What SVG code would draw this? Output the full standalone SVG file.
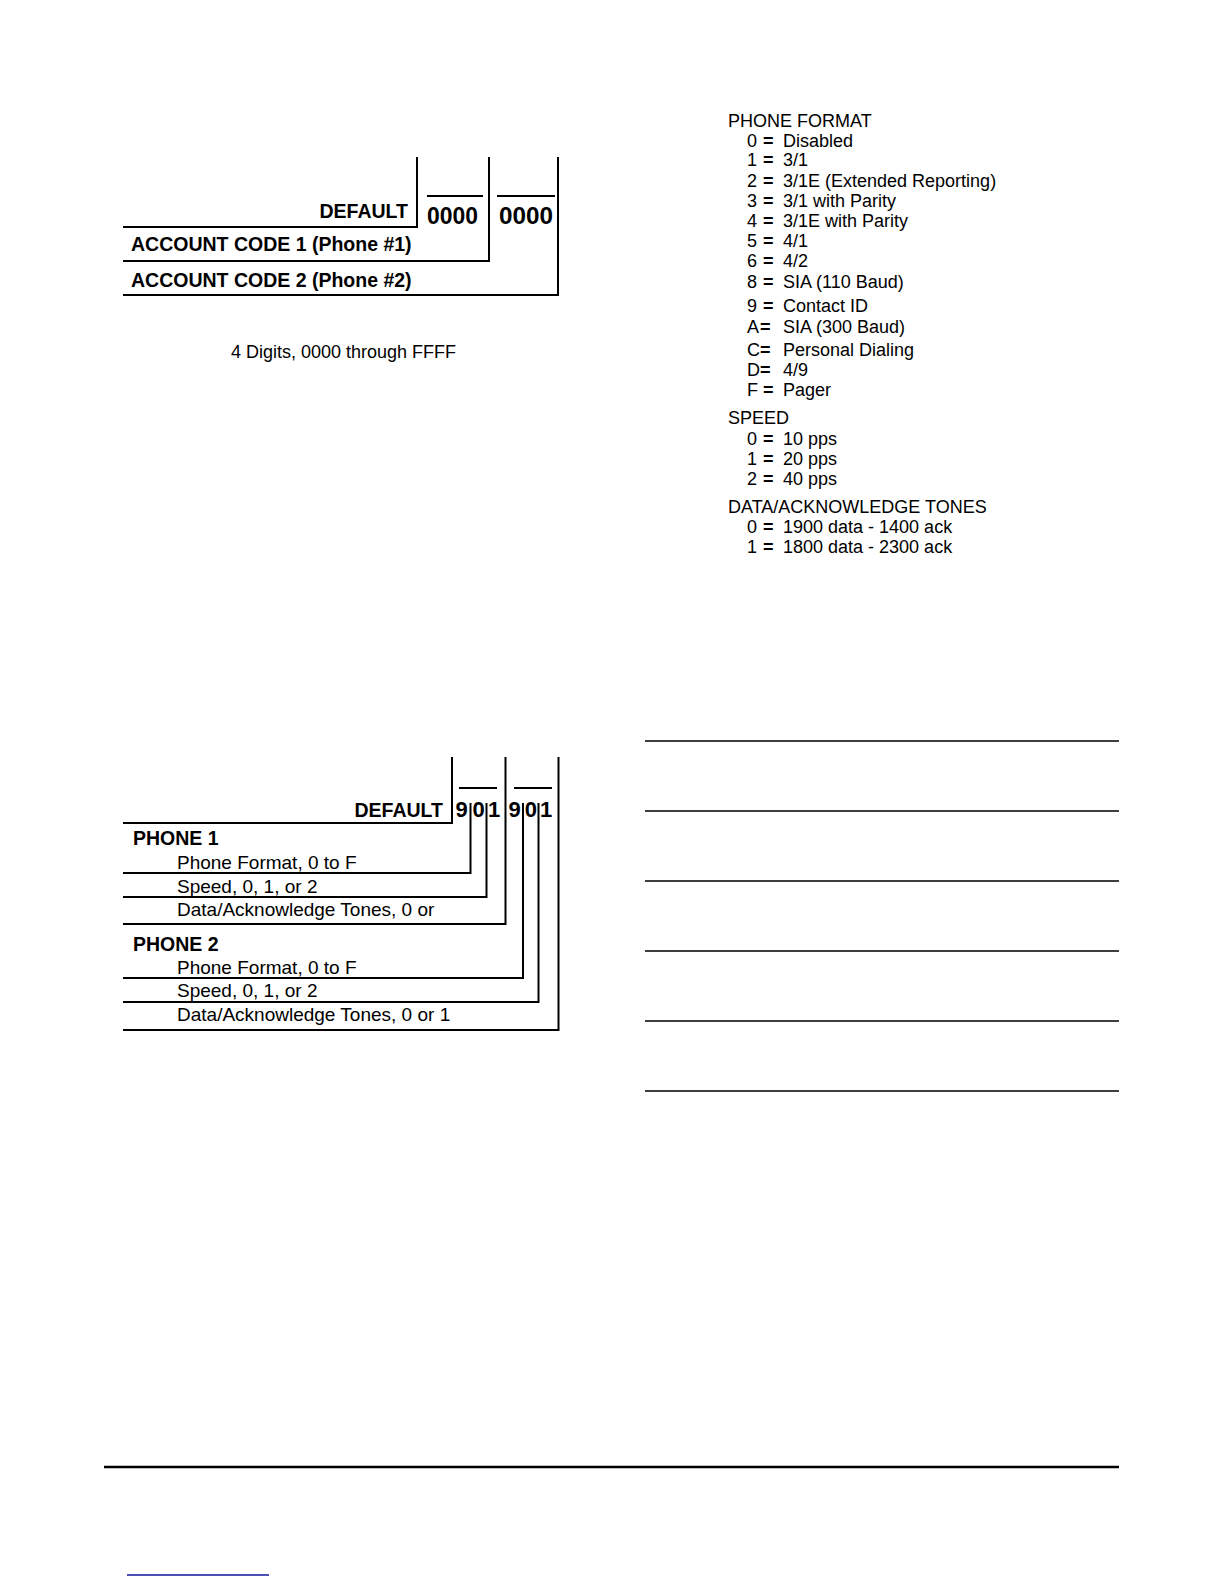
<svg xmlns="http://www.w3.org/2000/svg" width="1224" height="1584" viewBox="0 0 1224 1584">
<style>
.ln{stroke:#000;stroke-width:2;fill:none}
.thin{stroke:#000;stroke-width:1.4;fill:none}
.b{font-family:"Liberation Sans",Arial,sans-serif;font-weight:bold;font-size:19.5px;fill:#000}
.dg{font-family:"Liberation Sans",Arial,sans-serif;font-weight:bold;font-size:24px;fill:#000}
.r{font-family:"Liberation Sans",Arial,sans-serif;font-size:19px;fill:#000}
.rc{font-family:"Liberation Sans",Arial,sans-serif;font-size:18px;fill:#000}
.eq{font-weight:bold}
</style>
<rect width="1224" height="1584" fill="#fff"/>

<g id="account-codes">
  <g id="ac-lines">
    <path class="ln" d="M417,157V227H123M489,157V261H123M558,157V295H123"/>
    <path class="ln" d="M427,196H483M497,196H555"/>
  </g>
  <text class="b" x="408" y="218" text-anchor="end">DEFAULT</text>
  <text class="dg" x="427" y="224" textLength="51" lengthAdjust="spacingAndGlyphs" font-size="26">0000</text>
  <text class="dg" x="499" y="224" textLength="54" lengthAdjust="spacingAndGlyphs" font-size="26">0000</text>
  <text class="b" x="131" y="251">ACCOUNT CODE 1 (Phone #1)</text>
  <text class="b" x="131" y="287">ACCOUNT CODE 2 (Phone #2)</text>
  <text class="rc" x="231" y="358" font-size="17.5">4 Digits, 0000 through FFFF</text>
</g>

<g id="phone-format-diagram">
  <g id="pf-lines">
    <path class="ln" d="M452,757V823H123"/>
    <path class="ln" d="M470.5,803V873H123"/>
    <path class="ln" d="M486.5,803V897H123"/>
    <path class="ln" d="M505.5,757V924H123"/>
    <path class="ln" d="M523,803V978H123"/>
    <path class="ln" d="M538.5,803V1002H123"/>
    <path class="ln" d="M558.5,757V1030H123"/>
    <path class="ln" d="M459,788H497M514,788H552"/>
  </g>
  <text class="b" x="443" y="817" text-anchor="end">DEFAULT</text>
  <g class="dg" text-anchor="middle" font-size="22">
    <text x="461.5" y="817" font-size="22">9</text>
    <text x="478.5" y="817" font-size="22">0</text>
    <text x="494" y="817" font-size="22">1</text>
    <text x="514.5" y="817" font-size="22">9</text>
    <text x="530.8" y="817" font-size="22">0</text>
    <text x="546" y="817" font-size="22">1</text>
  </g>
  <text class="b" x="133" y="845">PHONE 1</text>
  <text class="r" x="177" y="869">Phone Format, 0 to F</text>
  <text class="r" x="177" y="893">Speed, 0, 1, or 2</text>
  <text class="r" x="177" y="916">Data/Acknowledge Tones, 0 or</text>
  <text class="b" x="133" y="951">PHONE 2</text>
  <text class="r" x="177" y="974">Phone Format, 0 to F</text>
  <text class="r" x="177" y="997">Speed, 0, 1, or 2</text>
  <text class="r" x="177" y="1021">Data/Acknowledge Tones, 0 or 1</text>
</g>

<g id="legend">
  <text class="rc" x="728" y="127" font-size="17.5">PHONE FORMAT</text>
  <g class="rc">
    <text x="747" y="147">0</text><text x="763" y="147" class="eq">=</text><text x="783" y="147">Disabled</text>
    <text x="747" y="166">1</text><text x="763" y="166" class="eq">=</text><text x="783" y="166">3/1</text>
    <text x="747" y="187">2</text><text x="763" y="187" class="eq">=</text><text x="783" y="187">3/1E (Extended Reporting)</text>
    <text x="747" y="207">3</text><text x="763" y="207" class="eq">=</text><text x="783" y="207">3/1 with Parity</text>
    <text x="747" y="227">4</text><text x="763" y="227" class="eq">=</text><text x="783" y="227">3/1E with Parity</text>
    <text x="747" y="247">5</text><text x="763" y="247" class="eq">=</text><text x="783" y="247">4/1</text>
    <text x="747" y="267">6</text><text x="763" y="267" class="eq">=</text><text x="783" y="267">4/2</text>
    <text x="747" y="288">8</text><text x="763" y="288" class="eq">=</text><text x="783" y="288">SIA (110 Baud)</text>
    <text x="747" y="312">9</text><text x="763" y="312" class="eq">=</text><text x="783" y="312">Contact ID</text>
    <text x="747" y="333">A</text><text x="760" y="333" class="eq">=</text><text x="783" y="333">SIA (300 Baud)</text>
    <text x="747" y="356">C</text><text x="760" y="356" class="eq">=</text><text x="783" y="356">Personal Dialing</text>
    <text x="747" y="376">D</text><text x="760" y="376" class="eq">=</text><text x="783" y="376">4/9</text>
    <text x="747" y="396">F</text><text x="763" y="396" class="eq">=</text><text x="783" y="396">Pager</text>
  </g>
  <text class="rc" x="728" y="424" font-size="17.5">SPEED</text>
  <g class="rc">
    <text x="747" y="445">0</text><text x="763" y="445" class="eq">=</text><text x="783" y="445">10 pps</text>
    <text x="747" y="465">1</text><text x="763" y="465" class="eq">=</text><text x="783" y="465">20 pps</text>
    <text x="747" y="485">2</text><text x="763" y="485" class="eq">=</text><text x="783" y="485">40 pps</text>
  </g>
  <text class="rc" x="728" y="513" font-size="17.5">DATA/ACKNOWLEDGE TONES</text>
  <g class="rc">
    <text x="747" y="533">0</text><text x="763" y="533" class="eq">=</text><text x="783" y="533">1900 data - 1400 ack</text>
    <text x="747" y="553">1</text><text x="763" y="553" class="eq">=</text><text x="783" y="553">1800 data - 2300 ack</text>
  </g>
</g>

<g id="ruled-lines">
  <path class="thin" d="M645,741H1119M645,811H1119M645,881H1119M645,951H1119M645,1021H1119M645,1091H1119"/>
</g>

<g id="footer">
  <path d="M104,1467H1119" stroke="#000" stroke-width="2.5"/>
  <path d="M127,1575H269" stroke="#1414a0" stroke-width="1.4"/>
</g>
</svg>
